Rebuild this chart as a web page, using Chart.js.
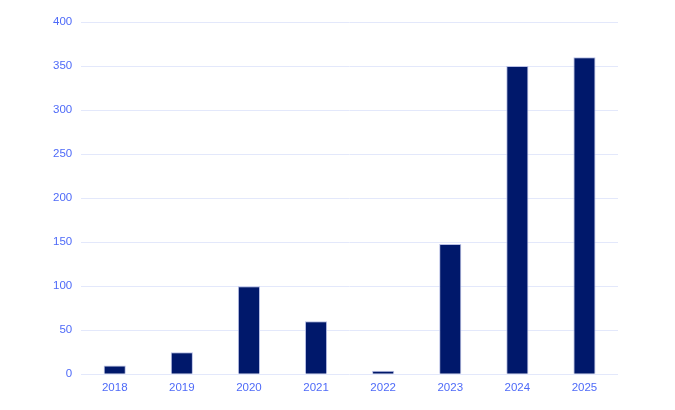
<!DOCTYPE html>
<html>
<head>
<meta charset="utf-8">
<script src="https://cdn.jsdelivr.net/npm/chart.js@4/dist/chart.umd.min.js"></script>
<style>
  html, body { margin: 0; padding: 0; background: #fff; }
  #wrap { width: 675px; height: 410px; position: relative; }
</style>
</head>
<body>
<div id="wrap"><canvas id="chart"></canvas></div>
<script>
const years = ["2018", "2019", "2020", "2021", "2022", "2023", "2024", "2025"];
const counts = [10, 25, 100, 60, 4, 148, 350, 360];
const yTicks = [0, 50, 100, 150, 200, 250, 300, 350, 400];

const tickColor = "#4e6af8";

new Chart(document.getElementById("chart"), {
    type: "bar",
    data: {
        labels: years,
        datasets: [{
            data: counts,
            backgroundColor: "#00186b",
            borderColor: "#b9c0e6",
            borderWidth: 1,
            barPercentage: 0.33,
            categoryPercentage: 1
        }]
    },
    options: {
        responsive: true,
        maintainAspectRatio: false,
        animation: false,
        layout: { padding: { left: 44, right: 57, top: 22, bottom: 16 } },
        plugins: {
            legend: { display: false },
            tooltip: { enabled: false }
        },
        scales: {
            x: {
                grid: { display: false },
                border: { display: false },
                ticks: { color: tickColor, font: { family: "Liberation Sans", size: 11.5 }, padding: -1 }
            },
            y: {
                min: yTicks[0],
                max: yTicks[yTicks.length - 1],
                afterBuildTicks: axis => { axis.ticks = yTicks.map(v => ({ value: v })); },
                grid: { color: "#e3e8fb", lineWidth: 1, drawTicks: false },
                border: { display: false },
                ticks: { color: tickColor, font: { family: "Liberation Sans", size: 11.5 }, padding: 9 }
            }
        }
    }
});
</script>
</body>
</html>
